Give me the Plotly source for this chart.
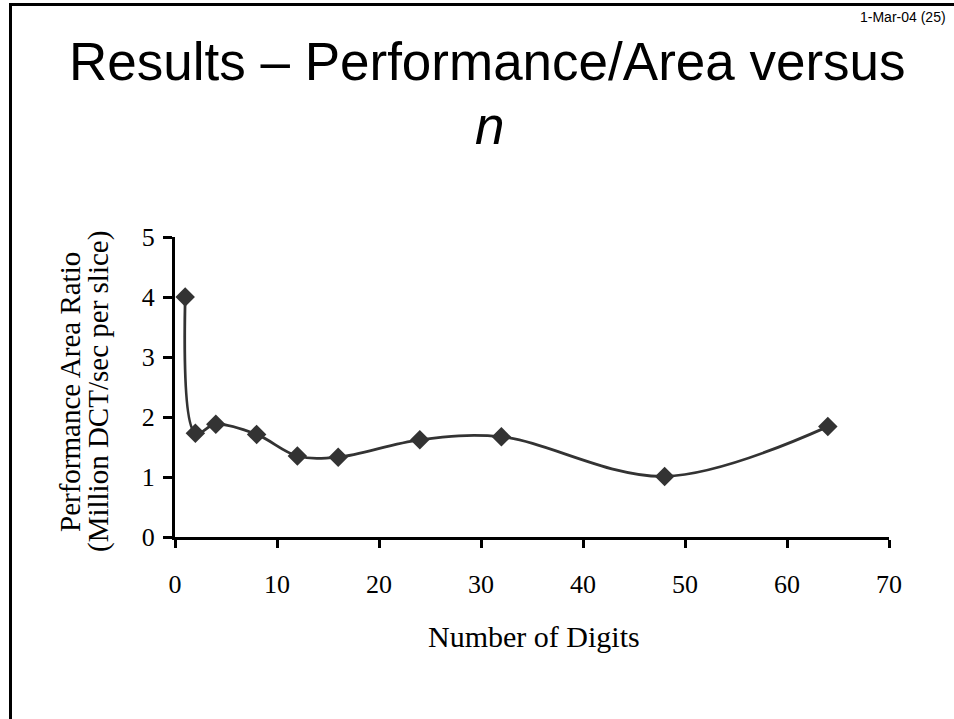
import plotly.graph_objects as go

digits = [1, 2, 4, 8, 12, 16, 24, 32, 48, 64]
perf_area = [4.00, 1.73, 1.88, 1.71, 1.35, 1.33, 1.62, 1.67, 1.01, 1.84]
x_ticks = [0, 10, 20, 30, 40, 50, 60, 70]
y_ticks = [0, 1, 2, 3, 4, 5]

title_line1 = "Results \u2013 Performance/Area versus"
title_line2 = "<i>n</i>"
date_label = "1-Mar-04 (25)"
x_title = "Number of Digits"
y_title1 = "Performance Area Ratio"
y_title2 = "(Million DCT/sec per slice)"

W, H = 954, 719
L, R, T, B = 175, 65, 237, 182
PW, PH = W - L - R, H - T - B


def px(x):
    return (x - L) / PW


def py(y):
    return (H - B - y) / PH


fig = go.Figure()
fig.add_trace(go.Scatter(
    x=digits, y=perf_area, mode="lines+markers",
    line=dict(color="#333333", width=2.8, shape="spline", smoothing=1),
    marker=dict(symbol="diamond", size=15, color="#333333"),
    showlegend=False, cliponaxis=False,
))

tick_font = dict(family="Times New Roman, Liberation Serif, serif", size=26, color="black")

fig.update_layout(
    width=W, height=H,
    margin=dict(l=L, r=R, t=T, b=B),
    paper_bgcolor="white", plot_bgcolor="white",
    xaxis=dict(range=[0, 70], tickvals=x_ticks, ticks="outside", ticklen=8, tickwidth=2.5,
               tickcolor="black", showline=True, linecolor="black", linewidth=3,
               showgrid=False, zeroline=False, tickfont=tick_font, ticklabelstandoff=14),
    yaxis=dict(range=[0, 5], tickvals=y_ticks, ticks="outside", ticklen=9, tickwidth=2.5,
               tickcolor="black", showline=True, linecolor="black", linewidth=3,
               showgrid=False, zeroline=False, tickfont=tick_font, ticklabelstandoff=3),
)

title_font = dict(family="Arial, Liberation Sans, sans-serif", size=53, color="black")
serif = "Times New Roman, Liberation Serif, serif"
annotations = [
    dict(x=px(487), y=py(61), text=title_line1, font=title_font),
    dict(x=px(489), y=py(126), text=title_line2, font=title_font),
    dict(x=px(948), y=py(17), text=date_label, xanchor="right",
         font=dict(family="Liberation Sans Narrow, Arial Narrow, Arial, sans-serif", size=14, color="black")),
    dict(x=px(534), y=py(636), text=x_title, font=dict(family=serif, size=30, color="black")),
    dict(x=px(70), y=py(392), text=y_title1, textangle=-90, font=dict(family=serif, size=29, color="black")),
    dict(x=px(98), y=py(392), text=y_title2, textangle=-90, font=dict(family=serif, size=29, color="black")),
]
for a in annotations:
    a.setdefault("xanchor", "center")
    a.setdefault("yanchor", "middle")
    fig.add_annotation(xref="paper", yref="paper", showarrow=False, **a)

border = dict(type="line", xref="paper", yref="paper", line=dict(color="black", width=3))
fig.add_shape(x0=px(10.5), y0=py(719), x1=px(10.5), y1=py(4.5), **border)
fig.add_shape(x0=px(9), y0=py(4.5), x1=px(954), y1=py(4.5), **border)

fig.write_html("out.html")
